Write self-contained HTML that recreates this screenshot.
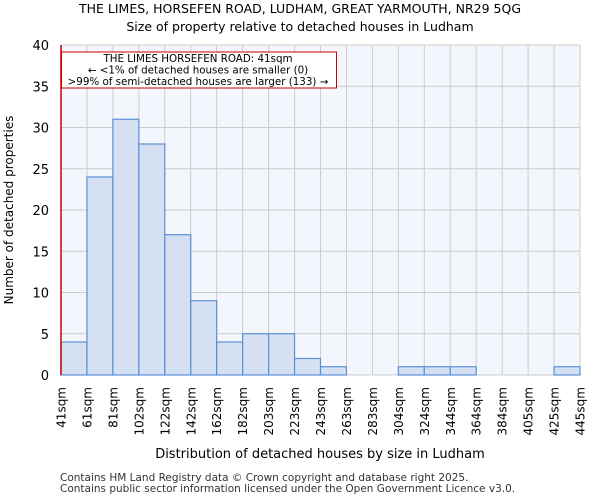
<!DOCTYPE html>
<html><head><meta charset="utf-8"><style>
body{margin:0;background:#fff;font-family:"DejaVu Sans","Liberation Sans",sans-serif}
</style></head><body>
<svg width="600" height="500" xmlns="http://www.w3.org/2000/svg" font-family="DejaVu Sans, Liberation Sans, sans-serif">
<text x="300" y="13" font-size="12.5" text-anchor="middle">THE LIMES, HORSEFEN ROAD, LUDHAM, GREAT YARMOUTH, NR29 5QG</text>
<text x="300" y="31" font-size="12.5" text-anchor="middle">Size of property relative to detached houses in Ludham</text>
<rect x="61" y="45" width="519" height="330" fill="#f4f6fd"/>
<g id="grid"></g>
<g id="bars"></g>
<g id="axes"></g>
<text x="320" y="458" font-size="13" text-anchor="middle">Distribution of detached houses by size in Ludham</text>
<text transform="translate(13,210) rotate(-90)" font-size="12" text-anchor="middle">Number of detached properties</text>
<line x1="61" y1="45" x2="61" y2="375" stroke="#cc0000" stroke-width="1.5"/>
<rect x="61.5" y="52" width="275" height="36" fill="#fff" stroke="#cc0000"/>
<text x="198" y="62" font-size="10.3" text-anchor="middle">THE LIMES HORSEFEN ROAD: 41sqm</text>
<text x="198" y="73.5" font-size="10.3" text-anchor="middle">← &lt;1% of detached houses are smaller (0)</text>
<text x="198" y="85" font-size="10.3" text-anchor="middle">&gt;99% of semi-detached houses are larger (133) →</text>
<text x="60" y="481" font-size="10.5" fill="#333">Contains HM Land Registry data © Crown copyright and database right 2025.</text>
<text x="60" y="492" font-size="10.5" fill="#333">Contains public sector information licensed under the Open Government Licence v3.0.</text>
</svg>
<script>
const categories=["41sqm","61sqm","81sqm","102sqm","122sqm","142sqm","162sqm","182sqm","203sqm","223sqm","243sqm","263sqm","283sqm","304sqm","324sqm","344sqm","364sqm","384sqm","405sqm","425sqm","445sqm"];
const counts=[4,24,31,28,17,9,4,5,5,2,1,0,0,1,1,1,0,0,0,1];
const yTicks=[0,5,10,15,20,25,30,35,40];
const NS="http://www.w3.org/2000/svg";
const X0=61,X1=580,Y0=375,Y1=45,YMAX=40;
const bw=(X1-X0)/counts.length;
const xp=i=>X0+i*bw;
const yp=v=>Y0-(v/YMAX)*(Y0-Y1);
function mk(t,a,p){const e=document.createElementNS(NS,t);for(const k in a)e.setAttribute(k,a[k]);p.appendChild(e);return e;}
const grid=document.getElementById('grid'),bars=document.getElementById('bars'),axes=document.getElementById('axes');
yTicks.forEach(v=>{
 const l=mk('line',{x1:X0,x2:X1,y1:yp(v),y2:yp(v),stroke:'#cccccc','stroke-width':1},grid);
 
 
 const t=mk('text',{x:X0-12,y:yp(v)+5,'font-size':13,'text-anchor':'end'},axes);
 t.textContent=v;
 
 
});
categories.forEach((c,i)=>{
 const l=mk('line',{x1:xp(i),x2:xp(i),y1:Y1,y2:Y0,stroke:'#cccccc','stroke-width':1},grid);
 
 
 const t=mk('text',{transform:`translate(${xp(i)+4.5},387) rotate(-90)`,'font-size':12,'text-anchor':'end'},axes);
 t.textContent=c;
 
 
});
counts.forEach((v,i)=>{
 if(v<=0)return;
 const r=mk('rect',{x:xp(i),y:yp(v),width:bw,height:Y0-yp(v),fill:'#d6e0f3',stroke:'#5b8fd6','stroke-width':1.2},bars);
 
 
});
</script>
</body></html>
